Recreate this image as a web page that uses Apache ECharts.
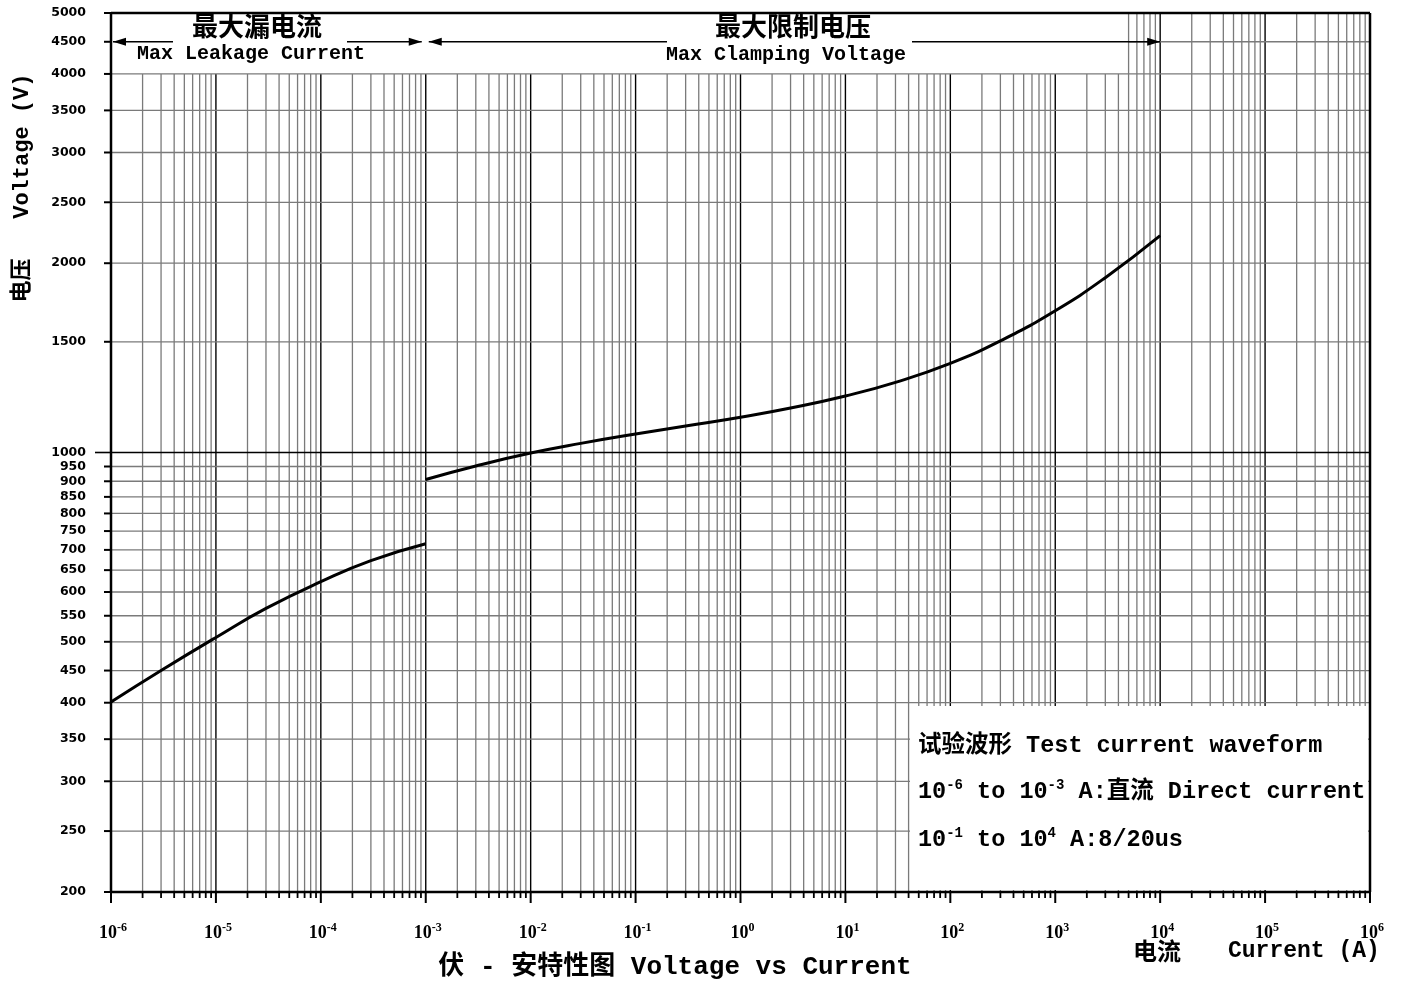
<!DOCTYPE html>
<html><head><meta charset="utf-8">
<script src="https://cdn.jsdelivr.net/npm/echarts@6/dist/echarts.min.js"></script>
<style>html,body{margin:0;padding:0;background:#fff}#c{width:1403px;height:985px}</style>
</head><body><div id="c"></div>
<script>
// ---------- data ----------
const decadeExponents = [-6,-5,-4,-3,-2,-1,0,1,2,3,4,5,6];
const minorMultipliers = [2,3,4,5,6,7,8,9];
const yTickValues = [200,250,300,350,400,450,500,550,600,650,700,750,800,850,900,950,1000,1500,2000,2500,3000,3500,4000,4500,5000];
const leakageCurrent = [1e-6, 3e-6, 1e-5, 3e-5, 1e-4, 3e-4, 1e-3];
const leakageVoltage = [401, 450, 508, 565, 623, 673, 716];
const clampCurrent = [1e-3, 3e-3, 1e-2, 3e-2, 1e-1, 3e-1, 1, 3, 10, 30, 100, 300, 1000, 3000, 10000];
const clampVoltage = [906, 952, 998, 1034, 1070, 1102, 1138, 1177, 1230, 1293, 1386, 1505, 1681, 1897, 2212];
const leakageLabelCn = '最大漏电流';
const leakageLabelEn = 'Max Leakage Current';
const clampLabelCn = '最大限制电压';
const clampLabelEn = 'Max Clamping Voltage';

const MONO = "'Liberation Mono','Noto Sans CJK SC',monospace";
const CJK = "'Noto Sans CJK SC'";
const GRAY = '#7a7a7a';

function pairs(xs, ys){ return xs.map((x,i)=>[x, ys[i]]); }

function renderGrid(params, api){
  const ch = [];
  const X = v => api.coord([v, 1000])[0];
  const Y = v => api.coord([1, v])[1];
  const xL = X(1e-6), xR = X(1e6), yB = Y(200), yT = Y(5000), y4000 = Y(4000);
  const ln = (x1,y1,x2,y2,c,w) => ch.push({type:'line', shape:{x1,y1,x2,y2}, style:{stroke:c, lineWidth:w}});
  // vertical grid lines
  decadeExponents.forEach(d => {
    if (d === 6) return;
    [1].concat(minorMultipliers).forEach(m => {
      const v = m * Math.pow(10, d);
      const x = X(v);
      const top = v >= 5000 ? yT : y4000;
      if (m === 1) ln(x, top, x, yB, '#000', 1.4);
      else ln(x, top, x, yB, GRAY, 1.3);
      ln(x, yB, x, yB + (m === 1 ? 11 : 6), '#000', m === 1 ? 2 : 1.8);
    });
  });
  ln(xR, yB, xR, yB + 11, '#000', 2);
  // horizontal grid lines + y ticks + labels
  yTickValues.forEach(v => {
    const y = Y(v);
    if (v !== 200 && v !== 5000) {
      const x0 = v === 4500 ? X(5000) : xL;
      ln(x0, y, xR, y, v === 1000 ? '#000' : GRAY, v === 1000 ? 1.6 : 1.3);
    }
    ln(xL - (v === 1000 ? 16 : 7), y, xL, y, '#000', v === 1000 ? 1.6 : 2);
    ch.push({type:'text', x: xL - 25, y: y, style:{text: String(v), align:'right', verticalAlign:'middle',
      font: "bold 12.5px 'DejaVu Sans'", fill:'#000'}});
  });
  // x labels
  decadeExponents.forEach(d => {
    const x = X(Math.pow(10, d));
    ch.push({type:'text', x: x + 2, y: yB + 41, style:{
      text: '{n|10}{s|' + d + '}', align:'center', verticalAlign:'middle',
      rich:{ n:{font:"bold 18px 'Liberation Serif'", fill:'#000', lineHeight:22},
             s:{font:"bold 12px 'Liberation Serif'", fill:'#000', verticalAlign:'top', lineHeight:12} }
    }});
  });
  // frame
  ln(xL, yT, xR, yT, '#000', 2.5);
  ln(xR, yT, xR, yB, '#000', 2.5);
  ln(xL, yT, xL, yB, '#000', 2.5);
  ln(xL, yB, xR, yB, '#000', 2.5);
  return {type:'group', children: ch};
}

const chart = echarts.init(document.getElementById('c'));
chart.setOption({
  backgroundColor: '#fff',
  animation: false,
  grid: {left: 111, right: 33, top: 13, bottom: 93, containLabel: false},
  xAxis: {type:'log', logBase:10, min:1e-6, max:1e6,
    axisLine:{show:false}, axisTick:{show:false}, axisLabel:{show:false}, splitLine:{show:false}},
  yAxis: {type:'log', logBase:10, min:200, max:5000,
    axisLine:{show:false}, axisTick:{show:false}, axisLabel:{show:false}, splitLine:{show:false}},
  series: [
    {type:'custom', renderItem: renderGrid, data:[[1,1000]], z:1, silent:true, clip:false},
    {type:'line', data: pairs(leakageCurrent, leakageVoltage), smooth:0.5, showSymbol:false, symbol:'none',
      lineStyle:{color:'#000', width:3}, z:5},
    {type:'line', data: pairs(clampCurrent, clampVoltage), smooth:0.5, showSymbol:false, symbol:'none',
      lineStyle:{color:'#000', width:3}, z:5}
  ]
});

// annotations positioned from the axis scales
const P = (x, y) => chart.convertToPixel({gridIndex:0}, [x, y]);
const g = [];
const yA = P(1, 4500)[1];
const xa = P(1e-6, 1)[0], xb = P(1e-3, 1)[0], xc = P(1e4, 1)[0];
function hl(x1, x2, y){ g.push({type:'line', z:100, shape:{x1, y1:y, x2, y2:y}, style:{stroke:'#000', lineWidth:1.5}}); }
function ah(tip, y, dir){ const b = tip - dir*13; g.push({type:'polygon', z:101, shape:{points:[[tip,y],[b,y-4],[b,y+4]]}, style:{fill:'#000'}}); }
function tx(x, y, text, font, align, extra){ g.push(Object.assign({type:'text', z:102, x, y,
  style:{text, font, fill:'#000', align: align || 'center', verticalAlign:'middle'}}, extra || {})); }

hl(xa + 2, 173, yA); ah(xa + 2, yA, -1);
hl(347, xb - 4, yA); ah(xb - 4, yA, 1);
ah(xb + 3, yA, -1); hl(xb + 3, 667, yA);
hl(912, xc, yA); ah(xc, yA, 1);
tx(257, 26, leakageLabelCn, "bold 26px " + CJK);
tx(251, 54, leakageLabelEn, "bold 20px " + MONO);
tx(793, 26, clampLabelCn, "bold 26px " + CJK);
tx(786, 55, clampLabelEn, "bold 20px " + MONO);

// axis titles
tx(22, 188, '电压   Voltage (V)', "bold 22px " + MONO, 'center', {rotation: Math.PI/2});
tx(675, 967, '伏 - 安特性图 Voltage vs Current', "bold 26px " + MONO);
tx(1133, 951, '电流', "bold 24px " + CJK, 'left');
tx(1228, 951, 'Current (A)', "bold 23px " + MONO, 'left');

// test waveform box
g.push({type:'rect', z:90, shape:{x:910, y:706, width:458, height:184}, style:{fill:'#fff'}});
const richBox = {
  n:{font:"bold 23.5px " + MONO, fill:'#000', lineHeight:28},
  s:{font:"bold 14px " + MONO, fill:'#000', verticalAlign:'top', lineHeight:14}
};
g.push({type:'text', z:102, x:918, y:746, style:{text:'{n|试验波形 Test current waveform}', rich:richBox, align:'left', verticalAlign:'middle'}});
g.push({type:'text', z:102, x:918, y:792, style:{text:'{n|10}{s|-6}{n| to 10}{s|-3}{n| A:直流 Direct current}', rich:richBox, align:'left', verticalAlign:'middle'}});
g.push({type:'text', z:102, x:918, y:840, style:{text:'{n|10}{s|-1}{n| to 10}{s|4}{n| A:8/20us}', rich:richBox, align:'left', verticalAlign:'middle'}});

chart.setOption({graphic: g});
</script>
</body></html>
